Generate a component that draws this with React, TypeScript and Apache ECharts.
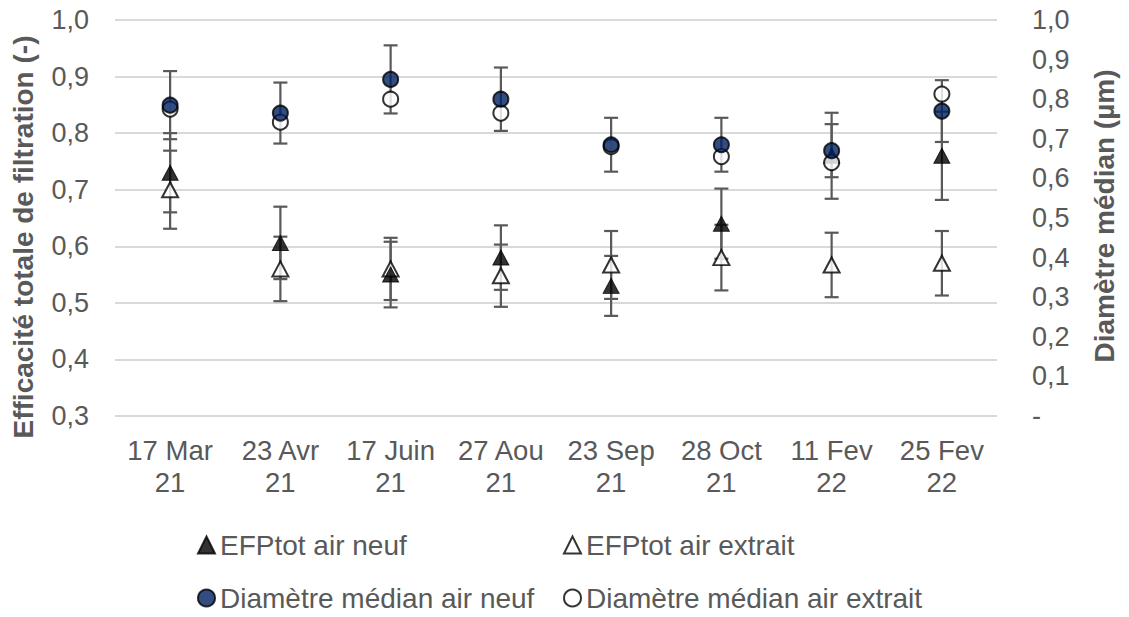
import React, { useEffect, useRef } from "react";
import * as echarts from "echarts";

const categories = ["17 Mar 21", "23 Avr 21", "17 Juin 21", "27 Aou 21", "23 Sep 21", "28 Oct 21", "11 Fev 22", "25 Fev 22"];

const efpNeuf = [0.73, 0.606, 0.55, 0.58, 0.53, 0.64, 0.76, 0.76];
const efpNeufErr = [0.07, 0.064, 0.058, 0.057, 0.053, 0.062, 0.076, 0.078];
const efpExtrait = [0.70, 0.56, 0.56, 0.548, 0.567, 0.58, 0.567, 0.57];
const efpExtraitErr = [0.069, 0.057, 0.055, 0.055, 0.06, 0.058, 0.057, 0.057];
const diamNeuf = [0.785, 0.765, 0.85, 0.80, 0.685, 0.685, 0.67, 0.77];
const diamNeufErr = [0.086, 0.077, 0.086, 0.08, 0.068, 0.068, 0.067, 0.078];
const diamExtrait = [0.775, 0.742, 0.80, 0.765, 0.68, 0.655, 0.64, 0.813];

const leftTitle = "Efficacité totale de filtration (-)";
const rightTitle = "Diamètre médian (µm)";
const names = ["EFPtot air neuf", "EFPtot air extrait", "Diamètre médian air neuf", "Diamètre médian air extrait"];

const FONT = '"Liberation Sans", Arial, sans-serif';
const GREY = "#595959";

function errSeries(id: string, values: number[], errs: number[], yAxisIndex: number) {
  return {
    type: "custom",
    id,
    yAxisIndex,
    silent: true,
    z: 1,
    data: values.map((v, i) => [i, v - errs[i], v + errs[i]]),
    encode: { x: 0, y: [1, 2] },
    renderItem: (params: any, api: any) => {
      const lo = api.coord([api.value(0), api.value(1)]);
      const hi = api.coord([api.value(0), api.value(2)]);
      const hw = 7;
      const st = { stroke: GREY, lineWidth: 2.2 };
      return {
        type: "group",
        children: [
          { type: "line", shape: { x1: lo[0], y1: lo[1], x2: hi[0], y2: hi[1] }, style: st },
          { type: "line", shape: { x1: lo[0] - hw, y1: lo[1], x2: lo[0] + hw, y2: lo[1] }, style: st },
          { type: "line", shape: { x1: hi[0] - hw, y1: hi[1], x2: hi[0] + hw, y2: hi[1] }, style: st },
        ],
      };
    },
  };
}

export default function App() {
  const ref = useRef<HTMLDivElement>(null);
  useEffect(() => {
    const chart = echarts.init(ref.current!, undefined, { renderer: "svg" });
    const legendBase = {
      itemWidth: 17,
      itemHeight: 17,
      textStyle: { color: GREY, fontSize: 28, fontFamily: FONT, lineHeight: 30 },
      selectedMode: false,
    };
    chart.setOption({
      animation: false,
      backgroundColor: "#fff",
      textStyle: { fontFamily: FONT },
      grid: { left: 115, right: 132, top: 20, bottom: 201 },
      xAxis: {
        type: "category",
        data: categories,
        boundaryGap: true,
        axisLine: { show: false },
        axisTick: { show: false },
        axisLabel: {
          color: GREY,
          fontSize: 27.5,
          fontFamily: FONT,
          lineHeight: 32,
          margin: 18,
          interval: 0,
          formatter: (v: string) => {
            const k = v.lastIndexOf(" ");
            return v.slice(0, k) + "\n" + v.slice(k + 1);
          },
        },
      },
      yAxis: [
        {
          type: "value",
          min: 0.3,
          max: 1.0,
          interval: 0.1,
          axisLine: { show: false },
          axisTick: { show: false },
          splitLine: { lineStyle: { color: "#d9d9d9", width: 2 } },
          axisLabel: {
            color: GREY,
            fontSize: 27,
            fontFamily: FONT,
            margin: 26,
            formatter: (v: number) => v.toFixed(1).replace(".", ","),
          },
        },
        {
          type: "value",
          min: 0,
          max: 1.0,
          interval: 0.1,
          position: "right",
          axisLine: { show: false },
          axisTick: { show: false },
          splitLine: { show: false },
          axisLabel: {
            color: GREY,
            fontSize: 27,
            fontFamily: FONT,
            margin: 35,
            align: "left",
            formatter: (v: number) => (Math.abs(v) < 1e-9 ? "-" : v.toFixed(1).replace(".", ",")),
          },
        },
      ],
      legend: [
        { ...legendBase, data: [names[0]], left: 192, top: 525 },
        { ...legendBase, data: [names[1]], left: 558, top: 525 },
        { ...legendBase, data: [names[2]], left: 192, top: 578 },
        { ...legendBase, data: [names[3]], left: 558, top: 578 },
      ],
      graphic: [
        {
          type: "text",
          x: 23,
          y: 237,
          rotation: Math.PI / 2,
          style: { text: leftTitle, font: `bold 28px ${FONT}`, fill: GREY, align: "center", verticalAlign: "middle" },
        },
        {
          type: "text",
          x: 1104,
          y: 216,
          rotation: Math.PI / 2,
          style: { text: rightTitle, font: `bold 28px ${FONT}`, fill: GREY, align: "center", verticalAlign: "middle" },
        },
      ],
      series: [
        errSeries("e1", efpNeuf, efpNeufErr, 0),
        errSeries("e2", efpExtrait, efpExtraitErr, 0),
        errSeries("e3", diamNeuf, diamNeufErr, 1),
        {
          type: "scatter",
          name: names[1],
          yAxisIndex: 0,
          data: efpExtrait,
          symbol: "triangle",
          symbolSize: [16, 15],
          z: 2,
          itemStyle: { color: "#ffffff", borderColor: "#000000", borderWidth: 2 },
        },
        {
          type: "scatter",
          name: names[0],
          yAxisIndex: 0,
          data: efpNeuf,
          symbol: "triangle",
          symbolSize: [16, 15],
          z: 3,
          itemStyle: { color: "#000000", borderColor: "#000000", borderWidth: 1 },
        },
        {
          type: "scatter",
          name: names[3],
          yAxisIndex: 1,
          data: diamExtrait,
          symbol: "circle",
          symbolSize: 15,
          z: 4,
          itemStyle: { color: "#ffffff", borderColor: "#000000", borderWidth: 2 },
        },
        {
          type: "scatter",
          name: names[2],
          yAxisIndex: 1,
          data: diamNeuf,
          symbol: "circle",
          symbolSize: 15,
          z: 5,
          itemStyle: { color: "#002060", borderColor: "#000000", borderWidth: 2 },
        },
      ],
    });
    return () => chart.dispose();
  }, []);
  return <div ref={ref} style={{ position: "fixed", left: 0, top: 0, width: 1129, height: 617 }} />;
}
